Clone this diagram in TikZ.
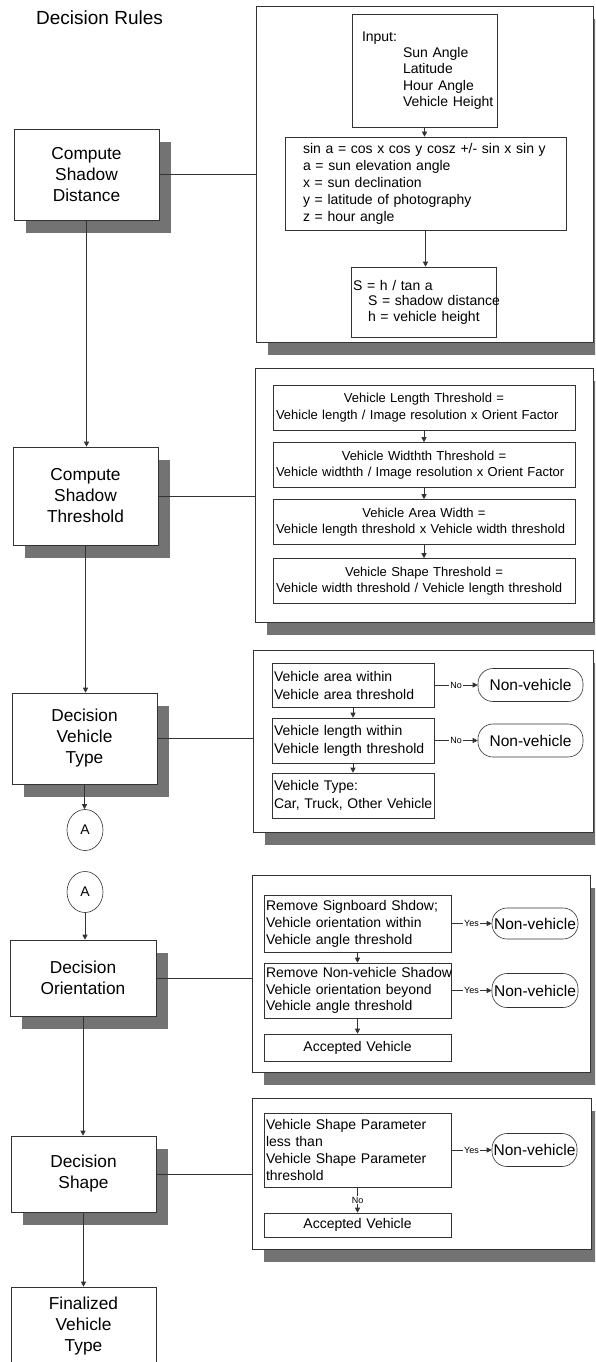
\documentclass[tikz,border=0pt]{standalone}
\usepackage{fontspec}
\setmainfont{Liberation Sans}
\usetikzlibrary{arrows.meta,shapes.geometric,shadows}
\begin{document}
\begin{tikzpicture}[x=1pt,y=-1pt,
  ln/.style={draw=black!80, line width=0.6pt},
  shd/.style={drop shadow={shadow xshift=12pt, shadow yshift=-13pt, fill=black!55, opacity=1}},
  mainbox/.style={ln, fill=white, shd, minimum width=145pt, inner sep=0pt, align=center, font=\fontsize{17.3}{21}\selectfont},
  plainbox/.style={ln, fill=white, minimum width=145pt, inner sep=0pt, align=center, font=\fontsize{17.3}{21}\selectfont},
  panel/.style={ln, fill=white, shd, inner sep=0pt},
  ibox/.style={ln, fill=white, inner ysep=0pt, align=left, font=\fontsize{14}{17}\selectfont},
  tbox/.style={ln, fill=white, inner ysep=0pt, inner xsep=3pt, text width=296pt, align=center, minimum width=302pt, minimum height=45pt, font=\fontsize{13}{16.5}\selectfont},
  nv/.style={ln, fill=white, rounded corners=15pt, inner sep=0pt, font=\fontsize{15.5}{18}\selectfont},
  conn/.style={ln},
  arr/.style={ln, -{Triangle[length=5pt,width=5pt]}},
  lbl/.style={fill=white, inner sep=1pt, font=\fontsize{9}{10}\selectfont},
  circ/.style={ln, fill=white, ellipse, minimum width=36pt, minimum height=41pt, inner sep=0pt, font=\fontsize{14}{17}\selectfont}
]
\useasboundingbox (0,0) rectangle (595,1362);
\clip (0,0) rectangle (595,1362);

% title
\node[anchor=west, inner sep=0pt, font=\fontsize{19}{22}\selectfont] (title) at (36,18) {Decision Rules};

% ---------- panels ----------
\node[panel, minimum width=337pt, minimum height=336pt] (P1) at (424.5,174) {};
\node[panel, minimum width=338pt, minimum height=254pt] (P2) at (424,495) {};
\node[panel, minimum width=340pt, minimum height=182pt] (P3) at (423,741) {};
\node[panel, minimum width=338pt, minimum height=197pt] (P4) at (421,973.5) {};
\node[panel, minimum width=339pt, minimum height=151pt] (P5) at (421.5,1173.5) {};

% ---------- main column ----------
\node[mainbox, minimum height=91pt] (B1) at (86.5,174.5) {Compute\\Shadow\\Distance};
\node[mainbox, minimum height=98pt] (B2) at (85.5,496) {Compute\\Shadow\\Threshold};
\node[mainbox, minimum height=91pt] (B3) at (84.5,738.5) {Decision\\Vehicle\\Type};
\node[circ] (A1) at (85,830) {A};
\node[circ] (A2) at (85,892) {A};
\node[mainbox, minimum width=146pt, minimum height=76pt] (B4) at (83,978) {Decision\\Orientation};
\node[mainbox, minimum height=76pt] (B5) at (83.5,1174) {Decision\\Shape};
\node[plainbox, minimum height=78pt] (B6) at (83.5,1326) {Finalized\\Vehicle\\Type};

% ---------- panel 1 ----------
\node[ibox, font=\fontsize{14}{16.3}\selectfont, text width=125pt, inner xsep=10pt, minimum width=145pt, minimum height=113pt] (In) at (424.5,70.5)
  {Input:\\\hspace*{41pt}Sun Angle\\\hspace*{41pt}Latitude\\\hspace*{41pt}Hour Angle\\\hspace*{41pt}\mbox{Vehicle Height}};
\node[ibox, text width=245pt, inner xsep=18pt, minimum width=281pt, minimum height=93pt] (F) at (425.5,183.5)
  {\mbox{sin a = cos x cos y cosz +/- sin x sin y}\\a = sun elevation angle\\x = sun declination\\y = latitude of photography\\z = hour angle};
\node[ibox, font=\fontsize{14}{15.5}\selectfont, text width=141pt, inner xsep=2pt, minimum width=145pt, minimum height=70pt] (S) at (423.5,302)
  {S = h / tan a\\\hspace*{15pt}\mbox{S = shadow distance}\\\hspace*{15pt}\mbox{h = vehicle height}};

% ---------- panel 2 ----------
\node[tbox] (Ta) at (424,407.5) {Vehicle Length Threshold =\\\makebox[296pt][l]{Vehicle length / Image resolution x Orient Factor}};
\node[tbox] (Tb) at (424,465) {Vehicle Widthth Threshold =\\\makebox[296pt][l]{Vehicle widthth / Image resolution x Orient Factor}};
\node[tbox] (Tc) at (424,522) {Vehicle Area Width =\\\makebox[296pt][l]{Vehicle length threshold x Vehicle width threshold}};
\node[tbox] (Td) at (424,581) {Vehicle Shape Threshold =\\\makebox[296pt][l]{Vehicle width threshold / Vehicle length threshold}};

% ---------- panel 3 ----------
\node[ibox, font=\fontsize{14}{18}\selectfont, text width=158pt, inner xsep=2pt, minimum width=162pt, minimum height=44pt] (C1) at (353,685)
  {Vehicle area within\\Vehicle area threshold};
\node[ibox, font=\fontsize{14}{18}\selectfont, text width=158pt, inner xsep=2pt, minimum width=162pt, minimum height=45pt] (C2) at (353,740.5)
  {Vehicle length within\\\mbox{Vehicle length threshold}};
\node[ibox, font=\fontsize{14}{18}\selectfont, text width=158pt, inner xsep=2pt, minimum width=162pt, minimum height=45pt] (C3) at (353,795.5)
  {Vehicle Type:\\\mbox{Car, Truck, Other Vehicle}};
\node[nv, minimum width=105pt, minimum height=33pt] (N1) at (530.5,685) {Non-vehicle};
\node[nv, minimum width=105pt, minimum height=33pt] (N2) at (530.5,740.5) {Non-vehicle};

% ---------- panel 4 ----------
\node[ibox, text width=183pt, inner xsep=2pt, minimum width=187pt, minimum height=57pt] (D1) at (357.5,923.5)
  {\mbox{Remove Signboard Shdow;}\\\mbox{Vehicle orientation within}\\\mbox{Vehicle angle threshold}};
\node[ibox, font=\fontsize{14}{16.5}\selectfont, text width=183pt, inner xsep=2pt, minimum width=187pt, minimum height=55pt] (D2) at (357.5,990.5)
  {\mbox{Remove Non-vehicle Shadow}\\\mbox{Vehicle orientation beyond}\\\mbox{Vehicle angle threshold}};
\node[ibox, align=center, text width=183pt, inner xsep=2pt, minimum width=187pt, minimum height=27pt] (D3) at (357.5,1047.5)
  {Accepted Vehicle};
\node[nv, minimum width=86pt, minimum height=31pt] (N3) at (535,923.5) {Non-vehicle};
\node[nv, minimum width=86pt, minimum height=34pt] (N4) at (535,990.5) {Non-vehicle};

% ---------- panel 5 ----------
\node[ibox, text width=183pt, inner xsep=2pt, minimum width=187pt, minimum height=74pt] (E1) at (357.5,1150)
  {Vehicle Shape Parameter\\less than\\Vehicle Shape Parameter\\threshold};
\node[ibox, align=center, text width=183pt, inner xsep=2pt, minimum width=187pt, minimum height=24pt] (E2) at (357.5,1225)
  {Accepted Vehicle};
\node[nv, minimum width=85pt, minimum height=33pt] (N5) at (534.5,1150) {Non-vehicle};

% ---------- connectors: main column ----------
\draw[arr] (B1.south) -- (B1.south |- B2.north);
\draw[arr] (B2.south) -- (B2.south |- B3.north);
\draw[arr] (B3.south) -- (B3.south |- A1.north);
\draw[arr] (A2.south) -- (A2.south |- B4.north);
\draw[arr] (B4.south) -- (B4.south |- B5.north);
\draw[arr] (B5.south) -- (B5.south |- B6.north);

% main boxes to panels
\draw[conn] (B1.east) -- (B1.east -| P1.west);
\draw[conn] (B2.east) -- (B2.east -| P2.west);
\draw[conn] (B3.east) -- (B3.east -| P3.west);
\draw[conn] (B4.east) -- (B4.east -| P4.west);
\draw[conn] (B5.east) -- (B5.east -| P5.west);

% panel 1
\draw[arr] (In.south) -- (In.south |- F.north);
\draw[arr] (F.south) -- (F.south |- S.north);

% panel 2
\draw[arr] (Ta.south) -- (Tb.north);
\draw[arr] (Tb.south) -- (Tc.north);
\draw[arr] (Tc.south) -- (Td.north);

% panel 3
\draw[arr] (C1.south) -- (C2.north);
\draw[arr] (C2.south) -- (C3.north);
\draw[arr] (C1.east) -- node[lbl] {No} (N1.west);
\draw[arr] (C2.east) -- node[lbl] {No} (N2.west);

% panel 4
\draw[arr] (D1.south) -- (D2.north);
\draw[arr] (D2.south) -- (D3.north);
\draw[arr] (D1.east) -- node[lbl] {Yes} (N3.west);
\draw[arr] (D2.east) -- node[lbl] {Yes} (N4.west);

% panel 5
\draw[arr] (E1.south) -- node[lbl] {No} (E2.north);
\draw[arr] (E1.east) -- node[lbl] {Yes} (N5.west);
\end{tikzpicture}
\end{document}
